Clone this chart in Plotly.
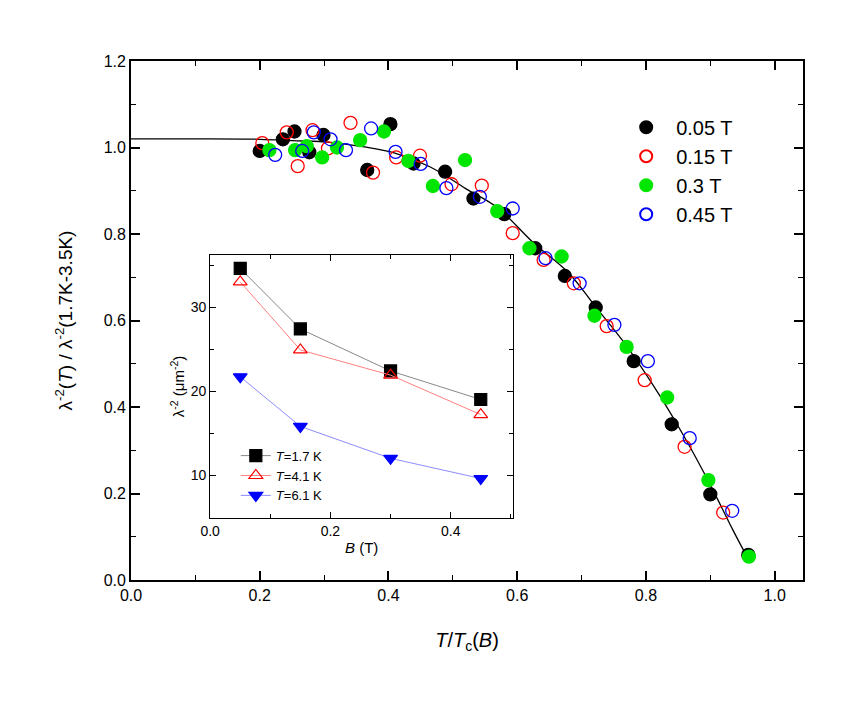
import plotly.graph_objects as go

# main panel: normalized superfluid density vs reduced temperature
t_005 = [0.200, 0.236, 0.254, 0.277, 0.299, 0.367, 0.403, 0.439, 0.488, 0.532,
         0.580, 0.628, 0.674, 0.722, 0.781, 0.840, 0.900, 0.959]
r_005 = [0.992, 1.019, 1.037, 0.989, 1.029, 0.948, 1.054, 0.963, 0.944, 0.882,
         0.846, 0.767, 0.703, 0.630, 0.506, 0.360, 0.198, 0.058]

t_015 = [0.204, 0.242, 0.259, 0.282, 0.306, 0.341, 0.376, 0.412, 0.449, 0.498,
         0.545, 0.593, 0.641, 0.688, 0.739, 0.798, 0.860, 0.920]
r_015 = [1.010, 1.035, 0.957, 1.040, 0.998, 1.057, 0.942, 0.977, 0.981, 0.915,
         0.912, 0.802, 0.740, 0.686, 0.587, 0.462, 0.308, 0.156]

t_03 = [0.215, 0.255, 0.273, 0.297, 0.320, 0.356, 0.393, 0.431, 0.469, 0.519,
        0.569, 0.619, 0.669, 0.720, 0.770, 0.833, 0.897, 0.960]
r_03 = [0.994, 0.994, 1.003, 0.977, 1.000, 1.017, 1.037, 0.969, 0.911, 0.971,
        0.853, 0.767, 0.748, 0.611, 0.539, 0.422, 0.231, 0.054]

t_045 = [0.224, 0.266, 0.284, 0.310, 0.334, 0.373, 0.411, 0.450, 0.490, 0.542,
         0.593, 0.644, 0.697, 0.751, 0.803, 0.868, 0.934]
r_045 = [0.983, 0.992, 1.035, 1.019, 0.994, 1.044, 0.990, 0.962, 0.906, 0.886,
         0.859, 0.744, 0.686, 0.590, 0.506, 0.328, 0.160]

# fit line
fit_t = [0.0, 0.10, 0.20, 0.25, 0.31, 0.36, 0.41, 0.465, 0.52, 0.57, 0.625,
         0.68, 0.72, 0.77, 0.82, 0.86, 0.90, 0.935, 0.962]
fit_r = [1.020, 1.020, 1.019, 1.016, 1.012, 1.002, 0.987, 0.955, 0.905, 0.860,
         0.780, 0.710, 0.635, 0.541, 0.430, 0.330, 0.220, 0.116, 0.040]

# inset: lambda^-2 vs field
B_field = [0.05, 0.15, 0.30, 0.45]
lam_17K = [34.6, 27.4, 22.4, 19.0]
lam_41K = [33.0, 24.9, 21.9, 17.2]
lam_61K = [21.7, 15.8, 12.0, 9.6]

FONT = "Liberation Sans, Arial, sans-serif"

fig = go.Figure()

fig.add_trace(go.Scatter(x=fit_t, y=fit_r, mode="lines", line=dict(color="black", width=1.3, shape="spline"),
                         showlegend=False, hoverinfo="skip"))

main_sets = [
    (t_005, r_005, "0.05 T", "circle", "black"),
    (t_015, r_015, "0.15 T", "circle-open", "#ff0000"),
    (t_03, r_03, "0.3 T", "circle", "#00e600"),
    (t_045, r_045, "0.45 T", "circle-open", "#0000ff"),
]
for i, (x, y, name, sym, col) in enumerate(main_sets):
    fig.add_trace(go.Scatter(x=x, y=y, mode="markers", name=name, legendgroup=f"g{i}",
                             marker=dict(symbol=sym, size=13, color=col, line=dict(width=1.3, color=col))))

inset_sets = [
    (lam_17K, "<i>T</i>=1.7 K", "square", "black", "#888888"),
    (lam_41K, "<i>T</i>=4.1 K", "triangle-up-open", "#ff0000", "#ff8080"),
    (lam_61K, "<i>T</i>=6.1 K", "triangle-down", "#0000ff", "#8c8cff"),
]
for y, name, sym, col, lcol in inset_sets:
    fig.add_trace(go.Scatter(x=B_field, y=y, mode="lines+markers", name=name, xaxis="x2", yaxis="y2",
                             legend="legend2", line=dict(color=lcol, width=1),
                             marker=dict(symbol=sym, size=12, color=col, line=dict(width=1.2, color=col))))

axis_common = dict(showline=True, linecolor="black", mirror="ticks", ticks="inside",
                   tickcolor="black", showgrid=False, zeroline=False)

# page body adds 8px offset, margins compensate
fig.update_layout(
    width=855, height=704,
    margin=dict(l=122.5, r=60, t=53, b=132),
    paper_bgcolor="white", plot_bgcolor="rgba(0,0,0,0)",
    font=dict(family=FONT, color="black"),
    xaxis=dict(**axis_common, range=[0, 1.044], dtick=0.2, tick0=0, tickformat=".1f",
               linewidth=1.8, tickwidth=1.5, ticklen=9,
               minor=dict(dtick=0.1, ticks="inside", ticklen=5, tickcolor="black", tickwidth=1.2),
               tickfont=dict(size=16),
               title=dict(text="<i>T</i>/<i>T</i><sub>c</sub>(<i>B</i>)", font=dict(size=20), standoff=30)),
    yaxis=dict(**axis_common, range=[0, 1.2], dtick=0.2, tick0=0, tickformat=".1f",
               linewidth=1.8, tickwidth=1.5, ticklen=9,
               minor=dict(dtick=0.1, ticks="inside", ticklen=5, tickcolor="black", tickwidth=1.2),
               tickfont=dict(size=16),
               title=dict(text="λ<sup>-2</sup>(<i>T</i>) / λ<sup>-2</sup>(1.7K-3.5K)", font=dict(size=19), standoff=26)),
    xaxis2=dict(**axis_common, domain=[0.1178, 0.5688], anchor="y2", range=[0, 0.504], dtick=0.2, tick0=0,
                tickformat=".1f", linewidth=1.2, tickwidth=1.2, ticklen=6,
                minor=dict(dtick=0.1, ticks="inside", ticklen=4, tickcolor="black", tickwidth=1),
                tickfont=dict(size=14),
                title=dict(text="<i>B</i> (T)", font=dict(size=15), standoff=4)),
    yaxis2=dict(**axis_common, domain=[0.1195, 0.6262], anchor="x2", range=[4.9, 36.2], dtick=10, tick0=0,
                linewidth=1.2, tickwidth=1.2, ticklen=6,
                minor=dict(dtick=5, ticks="inside", ticklen=4, tickcolor="black", tickwidth=1),
                tickfont=dict(size=14),
                title=dict(text="λ<sup>-2</sup> (μm<sup>-2</sup>)", font=dict(size=15), standoff=2)),
    legend=dict(x=0.722, y=0.91, xanchor="left", yanchor="top", bgcolor="rgba(0,0,0,0)",
                font=dict(size=20), tracegroupgap=0, itemsizing="constant", itemwidth=50),
    legend2=dict(x=0.156, y=0.2685, xanchor="left", yanchor="top", bgcolor="rgba(0,0,0,0)",
                 font=dict(size=13), tracegroupgap=0),
)

fig.write_html("out.html")
